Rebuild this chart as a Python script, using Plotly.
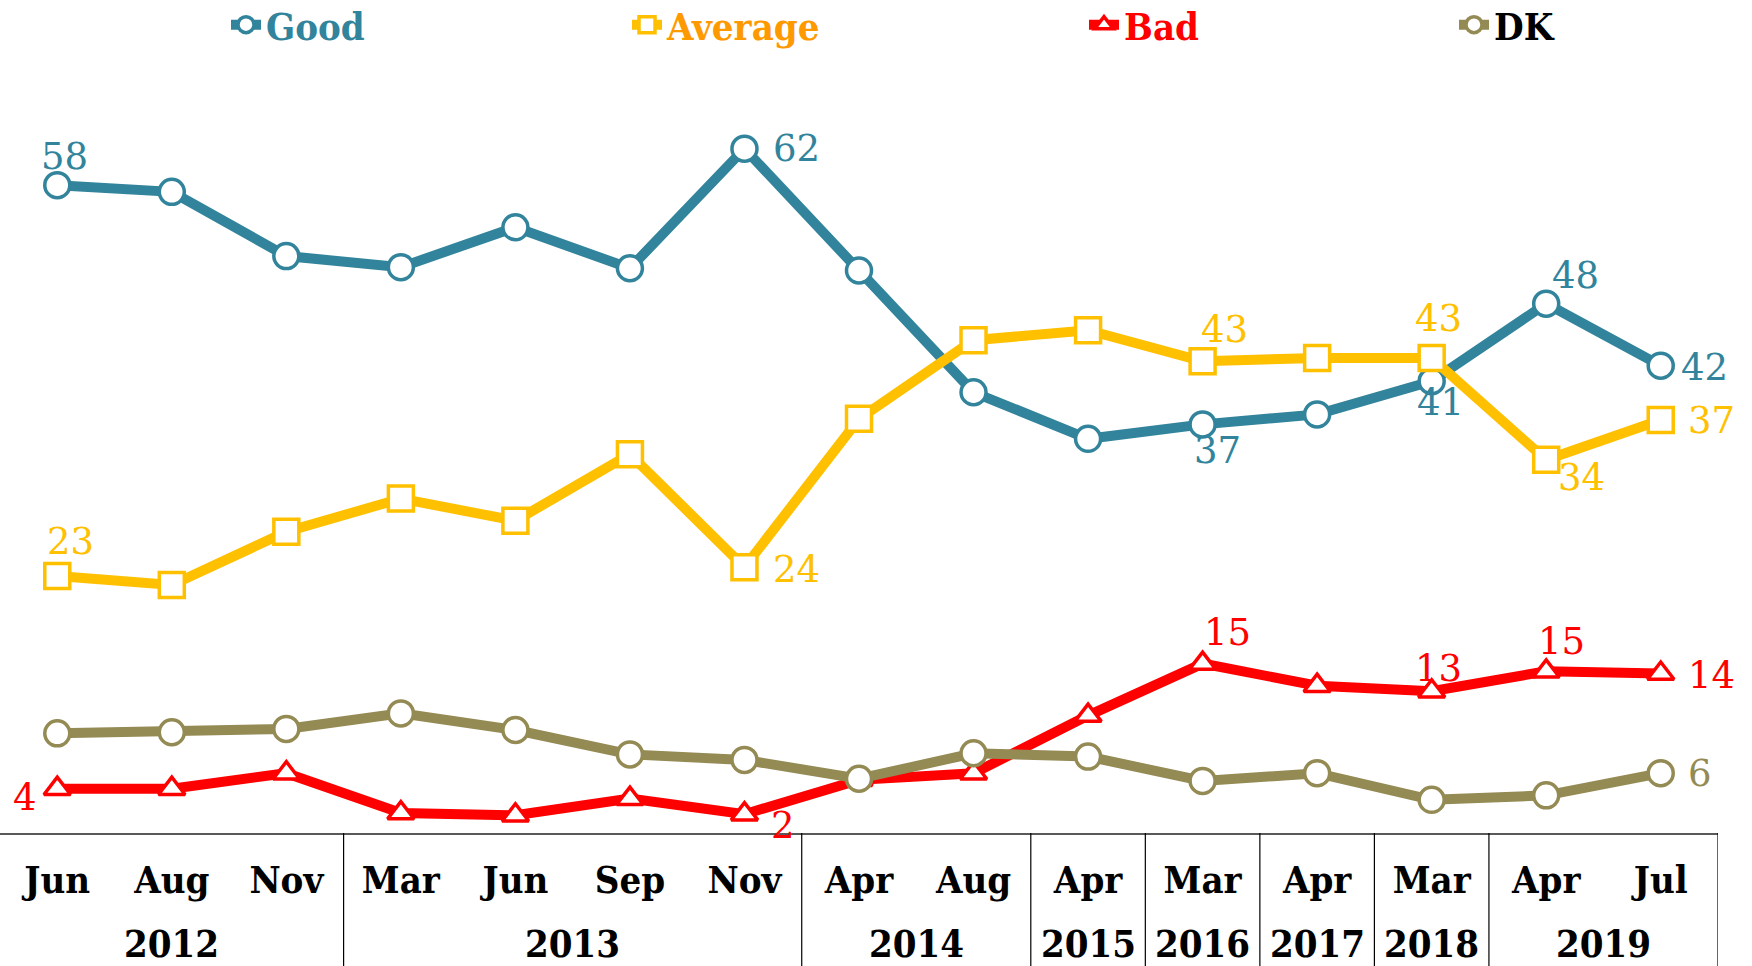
import plotly.graph_objects as go

# ---------------- data ----------------
months = ["Jun", "Aug", "Nov", "Mar", "Jun", "Sep", "Nov", "Apr", "Aug",
          "Apr", "Mar", "Apr", "Mar", "Apr", "Jul"]
years = ["2012", "2013", "2014", "2015", "2016", "2017", "2018", "2019"]
year_counts = [3, 4, 2, 1, 1, 1, 1, 2]

good = [58.5, 57.9, 52.1, 51.1, 54.7, 51.0, 61.8, 50.8, 39.8, 35.6, 36.9, 37.8, 40.8, 47.8, 42.2]
average = [23.2, 22.4, 27.2, 30.2, 28.2, 34.2, 24.0, 37.4, 44.5, 45.4, 42.6, 42.9, 42.9, 33.7, 37.3]
bad = [4.0, 4.0, 5.4, 1.8, 1.6, 3.1, 1.7, 4.8, 5.4, 10.6, 15.3, 13.3, 12.8, 14.6, 14.4]
dk = [9.0, 9.1, 9.4, 10.8, 9.3, 7.1, 6.6, 4.9, 7.2, 6.9, 4.7, 5.4, 3.0, 3.4, 5.4]

# labelled points: index -> text
good_labels = {0: "58", 6: "62", 10: "37", 12: "41", 13: "48", 14: "42"}
average_labels = {0: "23", 6: "24", 10: "43", 12: "43", 13: "34", 14: "37"}
bad_labels = {0: "4", 6: "2", 10: "15", 12: "13", 13: "15", 14: "14"}
dk_labels = {14: "6"}

# ---------------- styles ----------------
C_GOOD = "#31849B"
C_AVG = "#FFC000"
C_BAD = "#FF0000"
C_DK = "#948A54"
FONT = "DejaVu Serif Condensed"
LABEL_FONT = "DejaVu Serif"

W, H = 1752, 966
B = 133                  # bottom margin
PAPER_H = H - B          # paper height (t=0)
PLOT_TOP = 80            # px from top where the plot area starts
PLOT_RIGHT = 1718        # px where plot area ends

x = list(range(len(months)))

series = [
    ("Good", good, C_GOOD, "circle", "legend", C_GOOD),
    ("Average", average, C_AVG, "square", "legend2", "#FF9900"),
    ("Bad", bad, C_BAD, "triangle-up", "legend3", C_BAD),
    ("DK", dk, C_DK, "circle", "legend4", "#000000"),
]

fig = go.Figure()
for name, vals, col, sym, leg, _ in series:
    fig.add_trace(go.Scatter(
        x=x, y=vals, name=name, mode="lines+markers", legend=leg,
        line=dict(color=col, width=10),
        marker=dict(symbol=sym, size=25 if sym != "triangle-up" else 23,
                    color="white", line=dict(color=col, width=3.5)),
        hoverinfo="skip", cliponaxis=False,
    ))

# data label offsets (px)
offsets = {
    "Good": {0: (7, 29), 6: (52, 0), 10: (15, -26), 12: (9, -21), 13: (29, 28), 14: (44, -2)},
    "Average": {0: (13, 35), 6: (52, -2), 10: (22, 32), 12: (7, 39), 13: (35, -18), 14: (51, -1)},
    "Bad": {0: (-32, -9), 6: (39, -11), 10: (25, 31), 12: (7, 23), 13: (15, 30), 14: (51, -2)},
    "DK": {14: (39, 0)},
}
label_sets = {"Good": good_labels, "Average": average_labels, "Bad": bad_labels, "DK": dk_labels}
annotations = []
for name, vals, col, sym, leg, _ in series:
    for i, txt in label_sets[name].items():
        dx, dy = offsets[name][i]
        annotations.append(dict(
            x=x[i], y=vals[i], xref="x", yref="y", text=txt, showarrow=False,
            xshift=dx, yshift=dy, font=dict(family=LABEL_FONT, size=37, color=col),
            xanchor="center", yanchor="middle"))

# year labels and separators
shapes = []
start = 0
for yr, cnt in zip(years, year_counts):
    center = start + (cnt - 1) / 2
    annotations.append(dict(
        x=center, y=-(968 - PAPER_H) / PAPER_H, xref="x", yref="paper",
        text="<b>%s</b>" % yr,
        showarrow=False, font=dict(family=FONT, size=38, color="black"),
        xanchor="center", yanchor="bottom"))
    end = start + cnt - 0.5
    shapes.append(dict(type="line", xref="x", yref="paper", x0=end, x1=end,
                       y0=0, y1=-0.2, line=dict(color="black", width=1.2)))
    start += cnt

# legend positions (left px of each legend)
legend_x = [226, 627, 1084, 1454]
legends = {}
for (name, vals, col, sym, leg, tcol), lx in zip(series, legend_x):
    legends[leg] = dict(
        x=lx / W, y=(PAPER_H - 25) / PAPER_H, xanchor="left", yanchor="middle",
        orientation="h", bgcolor="rgba(0,0,0,0)",
        font=dict(family=FONT, size=38, color=tcol, weight="bold"),
        itemclick=False, itemdoubleclick=False)

fig.update_layout(
    width=W, height=H,
    margin=dict(l=0, r=0, t=0, b=B, autoexpand=False),
    plot_bgcolor="white", paper_bgcolor="white",
    showlegend=True,
    xaxis=dict(domain=[0, PLOT_RIGHT / W], range=[-0.5, 14.5], tickvals=x,
               ticktext=["<b>%s</b>" % m for m in months],
               tickfont=dict(family=FONT, size=38, color="black"),
               showgrid=False, zeroline=False, showline=True, linecolor="#595959",
               linewidth=2, ticks="", ticklabelstandoff=12, fixedrange=True,
               automargin=False),
    yaxis=dict(domain=[0, (PAPER_H - PLOT_TOP) / PAPER_H], range=[0, 68], visible=False,
               showgrid=False, zeroline=False, fixedrange=True, automargin=False),
    annotations=annotations,
    shapes=shapes,
    **legends,
)

fig.write_html("out.html", config={"displayModeBar": False},
               post_script="document.body.style.margin='0';document.body.style.overflow='hidden';")
